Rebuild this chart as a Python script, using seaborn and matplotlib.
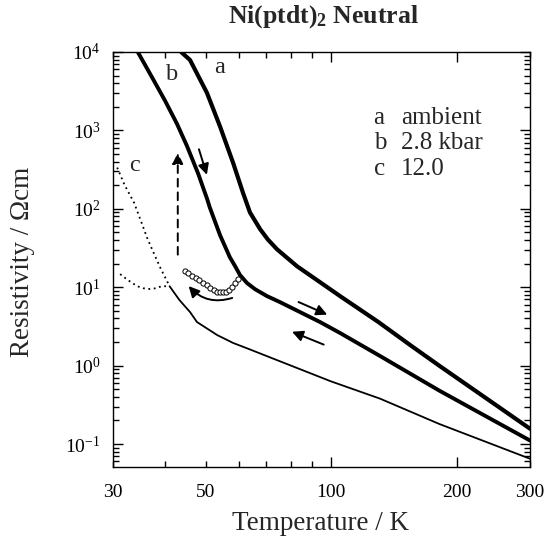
import math

import matplotlib

matplotlib.use("Agg")

import matplotlib.pyplot as plt
import matplotlib.ticker as mticker
import pandas as pd
import seaborn as sns

# curve a: ambient pressure
a_temp = [43.7, 45.9, 50.4, 54.2, 58.2, 61.5, 63.9, 67.6, 70.5, 74.2, 82.9, 94.1, 105.1, 129.9, 154.6, 182.0, 300.0]
a_rho = [10000, 7910, 3013, 1114, 389, 160, 90, 55, 40.8, 30.5, 18.5, 11.6, 7.71, 3.6, 1.84, 0.994, 0.157]

# curve b: 2.8 kbar
b_temp = [34.4, 37.4, 40.0, 42.7, 45.1, 48.0, 50.4, 51.2, 54.2, 57.2, 58.9, 60.5, 62.9, 65.7, 70.2,
          75.4, 84.2, 94.1, 105.1, 131.0, 182.0, 300.0]
b_rho = [10000, 4539, 2385, 1217, 639, 282, 135.6, 104, 45.9, 24.1, 18.5, 14.3, 11.3, 9.46, 7.71,
         6.47, 4.83, 3.60, 2.61, 1.33, 0.479, 0.111]

# curve b: open-circle branch
b_loop_temp = [44.6, 45.5, 46.5, 47.4, 48.3, 49.3, 50.3, 51.3, 52.3, 53.2, 54.2, 55.1, 56.0, 56.9, 57.8, 58.8, 59.8]
b_loop_rho = [16.0, 15.0, 14.0, 13.0, 12.3, 11.4, 10.6, 9.9, 9.2, 8.8, 8.6, 8.6, 8.8, 9.3, 10.2, 11.4, 12.7]

# curve c: 12.0 kbar, solid part
c_temp = [41.0, 43.3, 45.9, 47.7, 53.3, 58.2, 63.9, 67.6, 100.0, 131.0, 182.0, 300.0]
c_rho = [10.3, 6.86, 4.83, 3.6, 2.46, 1.95, 1.61, 1.43, 0.63, 0.38, 0.18, 0.065]

# curve c: dotted low-temperature branches
c_up_temp = [30.7, 32.0, 33.7, 35.0, 36.2, 37.4, 39.0, 41.0]
c_up_rho = [336, 200, 120, 70, 43, 28.8, 17.5, 10.3]
c_flat_temp = [31.2, 32.6, 34.3, 35.5, 36.7, 38.0, 39.2, 41.0]
c_flat_rho = [14.7, 12.3, 10.3, 9.7, 9.5, 9.7, 10.3, 10.3]

curve_names = ["a", "b", "c"]
legend_labels = ["ambient", "2.8 kbar", "12.0"]

x_major = [100, 200]
x_minor = [30, 40, 50, 60, 70, 80, 90, 300]
x_labeled = [30, 50, 100, 200, 300]


def frame(temp, rho):
    return pd.DataFrame({"T": temp, "rho": rho})


def decade_label(value, pos):
    return f"$10^{{{int(round(math.log10(value)))}}}$"


def x_label(value, pos):
    return f"{value:g}" if round(value) in x_labeled else ""


sns.set_style("ticks")
plt.rcParams["font.family"] = ["Liberation Serif", "DejaVu Serif"]
plt.rcParams["mathtext.fontset"] = "custom"
plt.rcParams["mathtext.rm"] = "Liberation Serif"
plt.rcParams["mathtext.bf"] = "Liberation Serif:bold"
plt.rcParams["mathtext.it"] = "Liberation Serif:italic"

fig = plt.figure(figsize=(5.48, 5.38), dpi=100)
ax = fig.add_axes([113 / 548, 71 / 538, 417 / 548, 415 / 538])
ax.set_xscale("log")
ax.set_yscale("log")

line_kw = dict(sort=False, estimator=None, color="black", legend=False, ax=ax)
sns.lineplot(data=frame(a_temp, a_rho), x="T", y="rho", linewidth=3.0, **line_kw)
sns.lineplot(data=frame(b_temp, b_rho), x="T", y="rho", linewidth=2.8, **line_kw)
sns.lineplot(data=frame(c_temp, c_rho), x="T", y="rho", linewidth=1.3, **line_kw)
sns.lineplot(data=frame(c_up_temp, c_up_rho), x="T", y="rho", linewidth=1.3,
             linestyle=(0, (1, 2)), **line_kw)
sns.lineplot(data=frame(c_flat_temp, c_flat_rho), x="T", y="rho", linewidth=1.3,
             linestyle=(0, (1, 2)), **line_kw)
sns.scatterplot(data=frame(b_loop_temp, b_loop_rho), x="T", y="rho", marker="o",
                facecolor="white", edgecolor="black", linewidth=0.7, s=14,
                legend=False, ax=ax, zorder=3)

# arrows showing sweep direction
arrow = dict(arrowstyle="-|>", color="black", lw=1.4, mutation_scale=16)
ax.annotate("", xy=(50.6, 251), xytext=(48.0, 621), arrowprops=arrow)
ax.annotate("", xy=(99.3, 4.33), xytext=(82.4, 6.7), arrowprops=arrow)
ax.annotate("", xy=(79.5, 2.79), xytext=(97.4, 1.8), arrowprops=arrow)
ax.annotate("", xy=(45.1, 11.0), xytext=(58.8, 7.5),
            arrowprops=dict(arrow, connectionstyle="arc3,rad=-0.35"))
ax.annotate("", xy=(42.9, 560), xytext=(42.9, 24),
            arrowprops=dict(arrow, linestyle=(0, (4, 3))))

# curve letters
for name, (tx, ty) in zip(curve_names, [(54.1, 6270), (41.5, 5110), (33.7, 356)]):
    ax.text(tx, ty, name, fontsize=17.5, ha="center", va="center")

for i, (name, label) in enumerate(zip(curve_names, legend_labels)):
    yy = 0.842 - i * 0.062
    ax.text(0.625, yy, name, transform=ax.transAxes, fontsize=18, va="center")
    ax.text(0.69, yy, label, transform=ax.transAxes, fontsize=18, va="center")

ax.set_xlim(30, 300)
ax.set_ylim(0.051, 1e4)

ax.xaxis.set_major_locator(mticker.FixedLocator(x_major))
ax.xaxis.set_minor_locator(mticker.FixedLocator(x_minor))
ax.xaxis.set_major_formatter(mticker.FuncFormatter(x_label))
ax.xaxis.set_minor_formatter(mticker.FuncFormatter(x_label))

ax.yaxis.set_major_locator(mticker.LogLocator(base=10, numticks=10))
ax.yaxis.set_minor_locator(mticker.LogLocator(base=10, subs=range(2, 10), numticks=20))
ax.yaxis.set_minor_formatter(mticker.NullFormatter())
ax.yaxis.set_major_formatter(mticker.FuncFormatter(decade_label))

ax.tick_params(which="both", direction="in", top=True, right=True, colors="black",
               labelsize=14, width=1.0)
ax.tick_params(axis="x", which="both", pad=12)
ax.tick_params(axis="y", which="both", pad=9)
ax.tick_params(which="major", length=7)
ax.tick_params(which="minor", length=4)
for spine in ax.spines.values():
    spine.set_color("black")
    spine.set_linewidth(1.0)

ax.set_xlabel("")
ax.set_ylabel("")
fig.text(320 / 548, 2 / 538, "Temperature / K", fontsize=19.5, ha="center", va="bottom")
fig.text(23 / 548, 1 - 262 / 538, "Resistivity / \u03a9cm", fontsize=19.5,
         rotation=90, ha="center", va="center")
fig.text(323 / 548, 1 - 17 / 538, r"Ni(ptdt)$_\mathbf{2}$ Neutral", fontsize=18.5,
         fontweight="bold", ha="center", va="center")

fig.savefig("out.png", dpi=100)
